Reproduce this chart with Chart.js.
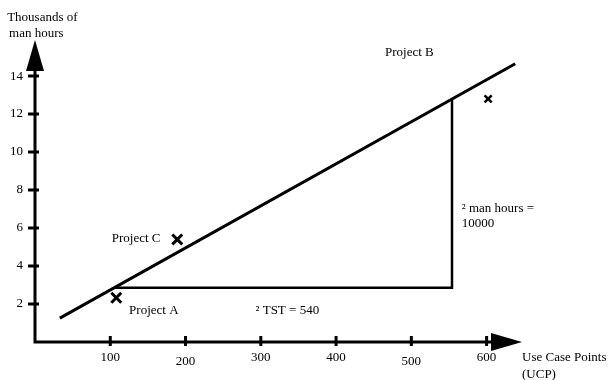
<!DOCTYPE html>
<html lang="en">
<head>
  <meta charset="UTF-8">
  <title>Use Case Points vs man hours</title>
  <script src="https://cdn.jsdelivr.net/npm/chart.js"></script>
  <style>
    body { margin: 0; background: #fff; }
    #wrap { width: 608px; height: 380px; }
  </style>
</head>
<body>
  <div id="wrap">
    <canvas id="ucpChart" width="608" height="380"></canvas>
  </div>

  <script>
    // values
    var xTicks = [100, 200, 300, 400, 500, 600];
    var yTicks = [2, 4, 6, 8, 10, 12, 14];

    var trendX = [33, 638];
    var trendY = [1.26, 14.65];

    var stepX = [106, 554, 554];
    var stepY = [2.86, 2.86, 12.78];

    var projectNames = ["Project A", "Project B", "Project C"];
    var projectX = [108, 602, 189];
    var projectY = [2.33, 12.8, 5.4];

    var xMax = 647;
    var yMax = 15.9;

    // text notes, anchored in data units (left edge, middle of text)
    var notes = [
      { text: "Thousands of", x: -37, y: 17.1 },
      { text: "man hours", x: -34.5, y: 16.26 },
      { text: "Project B", x: 465, y: 15.26 },
      { text: "Project C", x: 102, y: 5.47 },
      { text: "Project A", x: 125, y: 1.68 },
      { text: "\u00b2 TST = 540", x: 293, y: 1.68 },
      { text: "\u00b2 man hours =", x: 567, y: 7.05 },
      { text: "10000", x: 567, y: 6.21 },
      { text: "Use Case Points", x: 647, y: -0.84 },
      { text: "(UCP)", x: 647, y: -1.74 }
    ];

    var FONT = "13px 'Liberation Serif', 'Times New Roman', serif";

    function pts(xs, ys) {
      return xs.map(function (x, i) { return { x: x, y: ys[i] }; });
    }

    var axesPlugin = {
      id: "axesPlugin",
      afterDatasetsDraw: function (chart) {
        var c = chart.ctx;
        var xs = chart.scales.x, ys = chart.scales.y;
        var x0 = xs.getPixelForValue(0), y0 = ys.getPixelForValue(0);
        var xTip = xs.getPixelForValue(xMax), yTip = ys.getPixelForValue(yMax);
        c.save();
        c.strokeStyle = "#000";
        c.fillStyle = "#000";
        c.lineWidth = 3;
        c.beginPath();
        c.moveTo(x0, y0 + 1.5);
        c.lineTo(x0, yTip + 20);
        c.moveTo(x0 - 1.5, y0);
        c.lineTo(xTip - 20, y0);
        c.stroke();

        // arrow heads
        c.beginPath();
        c.moveTo(x0, yTip);
        c.lineTo(x0 - 9, yTip + 31);
        c.lineTo(x0 + 9, yTip + 31);
        c.closePath();
        c.fill();
        c.beginPath();
        c.moveTo(xTip, y0);
        c.lineTo(xTip - 31, y0 - 9);
        c.lineTo(xTip - 31, y0 + 9);
        c.closePath();
        c.fill();

        // ticks
        c.lineWidth = 3;
        c.beginPath();
        xTicks.forEach(function (v) {
          var px = xs.getPixelForValue(v);
          c.moveTo(px, y0 - 6);
          c.lineTo(px, y0 + 4);
        });
        yTicks.forEach(function (v) {
          var py = ys.getPixelForValue(v);
          c.moveTo(x0 - 7, py);
          c.lineTo(x0 + 4, py);
        });
        c.stroke();

        // tick labels
        c.font = FONT;
        c.textAlign = "center";
        c.textBaseline = "middle";
        xTicks.forEach(function (v, i) {
          c.fillText(String(v), xs.getPixelForValue(v), y0 + (i % 3 === 1 ? 20 : 16));
        });
        c.textAlign = "right";
        yTicks.forEach(function (v) {
          c.fillText(String(v), x0 - 12, ys.getPixelForValue(v));
        });

        // notes
        c.textAlign = "left";
        notes.forEach(function (n) {
          c.fillText(n.text, xs.getPixelForValue(n.x), ys.getPixelForValue(n.y));
        });
        c.restore();
      }
    };

    var ctx = document.getElementById("ucpChart").getContext("2d");
    var ucpChart = new Chart(ctx, {
      type: "scatter",
      data: {
        datasets: [
          {
            label: "Trend",
            data: pts(trendX, trendY),
            showLine: true,
            borderColor: "#000",
            borderWidth: 3,
            pointRadius: 0
          },
          {
            label: "Step",
            data: pts(stepX, stepY),
            showLine: true,
            borderColor: "#000",
            borderWidth: 2.5,
            pointRadius: 0
          },
          {
            label: "Projects",
            data: pts(projectX, projectY),
            showLine: false,
            pointStyle: "crossRot",
            pointRadius: [7, 5, 7],
            pointBorderWidth: [3, 2.5, 3],
            borderColor: "#000",
            backgroundColor: "#000"
          }
        ]
      },
      options: {
        responsive: false,
        animation: false,
        layout: { padding: { left: 35, top: 40, right: 86, bottom: 38 } },
        plugins: {
          legend: { display: false },
          tooltip: { enabled: false }
        },
        scales: {
          x: { type: "linear", min: 0, max: xMax, display: false },
          y: { type: "linear", min: 0, max: yMax, display: false }
        }
      },
      plugins: [axesPlugin]
    });
  </script>
</body>
</html>
